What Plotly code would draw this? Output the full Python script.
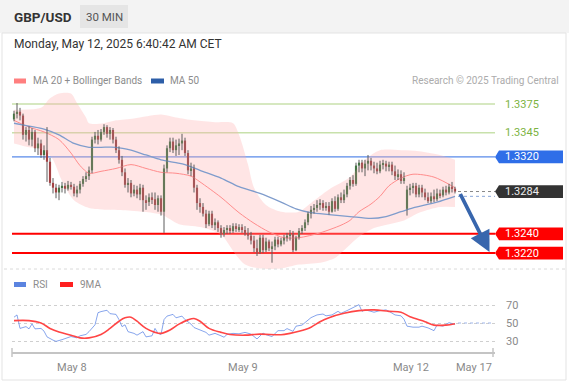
import plotly.graph_objects as go

W, H = 569, 386
def PX(x): return x / W
def PY(y): return 1 - y / H

# ---------------- DATA ----------------
opens = [1.3359,1.3365,1.3367,1.3363,1.3343,1.3348,1.3338,1.3346,1.3329,1.3334,
 1.3322,1.3327,1.3315,1.3293,1.3288,1.3283,1.3288,1.3290,1.3287,1.3291,
 1.3289,1.3282,1.3286,1.3292,1.3297,1.3300,1.3306,1.3338,1.3342,1.3338,
 1.3346,1.3351,1.3344,1.3348,1.3338,1.3327,1.3317,1.3304,1.3291,1.3293,
 1.3282,1.3286,1.3281,1.3288,1.3275,1.3273,1.3278,1.3276,1.3270,1.3277,
 1.3263,1.3308,1.3329,1.3336,1.3327,1.3332,1.3334,1.3337,1.3324,1.3306,
 1.3308,1.3288,1.3272,1.3268,1.3261,1.3250,1.3261,1.3249,1.3252,1.3246,
 1.3240,1.3244,1.3246,1.3243,1.3248,1.3245,1.3247,1.3244,1.3241,1.3238,
 1.3233,1.3225,1.3221,1.3236,1.3223,1.3232,1.3225,1.3227,1.3234,1.3229,
 1.3233,1.3236,1.3238,1.3240,1.3223,1.3236,1.3243,1.3246,1.3252,1.3261,
 1.3265,1.3267,1.3270,1.3272,1.3267,1.3269,1.3263,1.3274,1.3266,1.3278,
 1.3275,1.3281,1.3290,1.3296,1.3292,1.3311,1.3314,1.3308,1.3313,1.3316,
 1.3311,1.3308,1.3305,1.3312,1.3313,1.3310,1.3312,1.3305,1.3300,1.3302,
 1.3295,1.3266,1.3286,1.3288,1.3290,1.3281,1.3288,1.3283,1.3278,1.3274,
 1.3279,1.3276,1.3282,1.3280,1.3286,1.3283,1.3289,1.3287]
closes = [1.3365,1.3367,1.3363,1.3343,1.3348,1.3338,1.3346,1.3329,1.3334,1.3322,
 1.3327,1.3315,1.3293,1.3288,1.3283,1.3288,1.3290,1.3287,1.3291,1.3289,
 1.3282,1.3286,1.3292,1.3297,1.3300,1.3306,1.3338,1.3342,1.3338,1.3346,
 1.3351,1.3344,1.3348,1.3338,1.3327,1.3317,1.3304,1.3291,1.3293,1.3282,
 1.3286,1.3281,1.3288,1.3275,1.3273,1.3278,1.3276,1.3270,1.3277,1.3263,
 1.3308,1.3329,1.3336,1.3327,1.3332,1.3334,1.3337,1.3324,1.3306,1.3308,
 1.3288,1.3272,1.3268,1.3261,1.3250,1.3261,1.3249,1.3252,1.3246,1.3240,
 1.3244,1.3246,1.3243,1.3248,1.3245,1.3247,1.3244,1.3241,1.3238,1.3233,
 1.3225,1.3221,1.3236,1.3223,1.3232,1.3225,1.3227,1.3234,1.3229,1.3233,
 1.3236,1.3238,1.3240,1.3223,1.3236,1.3243,1.3246,1.3252,1.3261,1.3265,
 1.3267,1.3270,1.3272,1.3267,1.3269,1.3263,1.3274,1.3266,1.3278,1.3275,
 1.3281,1.3290,1.3296,1.3292,1.3311,1.3314,1.3308,1.3313,1.3316,1.3311,
 1.3308,1.3305,1.3312,1.3313,1.3310,1.3312,1.3305,1.3300,1.3302,1.3295,
 1.3298,1.3286,1.3288,1.3290,1.3281,1.3288,1.3283,1.3278,1.3274,1.3279,
 1.3276,1.3282,1.3280,1.3286,1.3283,1.3289,1.3287,1.3284]
highs = [1.3368,1.3376,1.3371,1.3365,1.3351,1.3352,1.3350,1.3348,1.3340,1.3338,
 1.3332,1.3351,1.3319,1.3298,1.3292,1.3291,1.3294,1.3293,1.3295,1.3294,
 1.3292,1.3290,1.3295,1.3300,1.3304,1.3310,1.3341,1.3346,1.3348,1.3349,
 1.3354,1.3353,1.3351,1.3350,1.3341,1.3331,1.3321,1.3308,1.3298,1.3296,
 1.3291,1.3290,1.3292,1.3291,1.3280,1.3282,1.3283,1.3283,1.3280,1.3280,
 1.3312,1.3332,1.3340,1.3340,1.3338,1.3339,1.3344,1.3340,1.3327,1.3314,
 1.3312,1.3291,1.3277,1.3272,1.3265,1.3264,1.3264,1.3256,1.3254,1.3249,
 1.3247,1.3249,1.3249,1.3251,1.3251,1.3250,1.3250,1.3248,1.3246,1.3242,
 1.3238,1.3234,1.3239,1.3239,1.3236,1.3234,1.3232,1.3237,1.3237,1.3236,
 1.3239,1.3241,1.3244,1.3243,1.3238,1.3246,1.3249,1.3255,1.3263,1.3269,
 1.3271,1.3275,1.3276,1.3275,1.3273,1.3273,1.3277,1.3279,1.3281,1.3283,
 1.3286,1.3293,1.3299,1.3301,1.3314,1.3317,1.3317,1.3317,1.3322,1.3319,
 1.3315,1.3314,1.3316,1.3317,1.3316,1.3315,1.3315,1.3311,1.3307,1.3306,
 1.3304,1.3290,1.3292,1.3293,1.3293,1.3291,1.3291,1.3287,1.3283,1.3283,
 1.3286,1.3287,1.3286,1.3289,1.3290,1.3292,1.3294,1.3289]
lows = [1.3357,1.3360,1.3358,1.3338,1.3336,1.3332,1.3331,1.3325,1.3322,1.3319,
 1.3317,1.3294,1.3290,1.3282,1.3277,1.3275,1.3283,1.3282,1.3285,1.3286,
 1.3279,1.3278,1.3282,1.3289,1.3294,1.3296,1.3303,1.3334,1.3333,1.3336,
 1.3343,1.3340,1.3338,1.3334,1.3324,1.3313,1.3300,1.3288,1.3283,1.3278,
 1.3279,1.3277,1.3275,1.3263,1.3265,1.3269,1.3271,1.3265,1.3263,1.3259,
 1.3241,1.3304,1.3325,1.3324,1.3321,1.3322,1.3327,1.3321,1.3302,1.3300,
 1.3283,1.3265,1.3262,1.3258,1.3246,1.3248,1.3246,1.3244,1.3242,1.3236,
 1.3237,1.3240,1.3240,1.3241,1.3242,1.3242,1.3241,1.3238,1.3234,1.3229,
 1.3221,1.3217,1.3219,1.3220,1.3221,1.3222,1.3210,1.3223,1.3226,1.3227,
 1.3229,1.3232,1.3233,1.3221,1.3222,1.3234,1.3240,1.3243,1.3249,1.3256,
 1.3261,1.3263,1.3265,1.3264,1.3264,1.3260,1.3262,1.3263,1.3264,1.3272,
 1.3272,1.3278,1.3286,1.3289,1.3290,1.3304,1.3304,1.3300,1.3306,1.3306,
 1.3303,1.3302,1.3303,1.3307,1.3305,1.3305,1.3301,1.3296,1.3296,1.3292,
 1.3292,1.3259,1.3280,1.3282,1.3278,1.3278,1.3278,1.3275,1.3272,1.3272,
 1.3273,1.3274,1.3277,1.3278,1.3280,1.3281,1.3283,1.3282]

ma50_idx = [0,5,10,15,20,25,29,34,39,44,49,54,57,62,69,75,82,89,94,99,105,112,119,124,129,133,141,147]
ma50 = [1.3355,1.3352,1.3349,1.3343,1.3334,1.3330,1.3330,1.3330,1.3327,1.3322,1.3317,1.3314,1.3312,1.3306,
        1.3298,1.3289,1.3282,1.3273,1.3266,1.3262,1.3260,1.3258,1.3256,1.3258,1.3263,1.3267,1.3273,1.3279]
ma20_idx = [0,5,10,15,19,22,25,29,34,39,44,49,54,59,62,69,75,80,85,90,95,102,109,112,115,119,122,125,129,133,140,147]
ma20 = [1.3358,1.3351,1.3346,1.3338,1.3324,1.3311,1.3303,1.3305,1.3308,1.3312,1.3308,1.3304,1.3303,1.3300,1.3294,
        1.3278,1.3262,1.3251,1.3242,1.3236,1.3236,1.3241,1.3249,1.3254,1.3263,1.3271,1.3279,1.3290,1.3298,1.3302,1.3299,1.3288]
bb_up_idx = [0,9,12,15,19,21,24,25,30,34,40,49,54,60,67,73,75,78,80,84,89,95,99,105,112,117,122,129,135,142,147]
bb_upper = [1.3369,1.3371,1.3381,1.3386,1.3386,1.3376,1.3361,1.3355,1.3355,1.3358,1.3360,1.3364,1.3361,1.3358,1.3356,
            1.3355,1.3343,1.3312,1.3288,1.3270,1.3263,1.3263,1.3272,1.3286,1.3299,1.3317,1.3327,1.3327,1.3326,1.3322,1.3317]
bb_lo_idx = [0,5,10,13,16,20,25,32,39,49,55,62,69,74,77,82,89,95,102,107,110,115,120,125,130,135,142,147]
bb_lower = [1.3334,1.3330,1.3327,1.3317,1.3295,1.3275,1.3267,1.3265,1.3264,1.3260,1.3250,1.3247,1.3239,1.3218,
            1.3208,1.3204,1.3204,1.3208,1.3210,1.3215,1.3223,1.3237,1.3246,1.3250,1.3254,1.3262,1.3268,1.3268]

rsi_idx = [0,1,2,4,5,6,7,9,10,11,13,14,16,18,19,21,22,24,25,27,28,29,31,32,34,35,36,37,38,40,41,43,44,46,47,48,49,
           50,51,53,54,56,57,59,60,62,64,65,67,69,70,71,73,75,77,79,81,83,84,86,88,90,91,93,94,96,98,99,101,103,104,
           106,108,109,111,113,115,116,117,119,120,122,124,125,127,129,130,131,133,135,136,138,140,141,143,145,146,147]
rsi = [56.5,59,44,46,43.5,49,43.5,44,41,34.6,31,29.6,31.5,33.5,35,33.5,35.8,37.3,40.4,48,61.5,62.7,64.2,60.4,59.6,
       53.8,46,48,40.4,38.5,36.5,40.4,34.6,35.8,44,38.5,37.3,53.8,57.7,59.6,55.8,57.7,53.8,48.8,45,42.3,39.6,36.5,
       38.5,35.8,34.2,37.3,38.5,38,39.6,37.7,32.3,38.8,37,35,41.5,41.5,43.8,40.8,46.5,47.7,53,56,59,60,58,59,63,
       60.8,63.8,67,70.4,63,64.6,63,62,63.8,64.6,63,59,58,54.2,46.5,45.4,45.4,46.5,44.6,41.5,47.7,46.5,50.4,49.6,48.5]
rsi9_idx = [0,5,9,12,15,19,22,25,29,32,35,37,39,41,44,47,49,52,55,58,60,62,65,69,72,77,82,89,92,95,99,102,105,
            110,115,120,125,129,132,137,140,144,147]
rsi9 = [52.7,52.7,50,44,40,36.5,33.5,33.5,37.3,44,52,55.8,56.5,52,44,39.6,38.5,42.3,48.8,53.5,55,52,44,39.6,37.3,
        36.5,37.7,37,38.5,40.8,45.4,51.5,56,60.8,63.8,64.6,63,62,57,51.5,47.7,47.7,49.2]

date_labels = ["May 8", "May 9", "May 12", "May 17"]
date_pos = [19.3, 76.3, 132.3, 153.3]          # in candle-index units

resist1, resist2, pivot = 1.3375, 1.3345, 1.3320
support1, support2 = 1.3240, 1.3220
rsi_levels = [30, 50, 70]

# ---------------- FIGURE ----------------
n = len(closes)
idx = list(range(n))
XR = [-0.667, 160.33]
YR = [1.32024, 1.33875]

GREEN, RED = "#2e8a2e", "#e8262b"
fig = go.Figure()

# Bollinger band fill
fig.add_trace(go.Scatter(x=bb_up_idx, y=bb_upper, mode="lines",
                         line=dict(width=0, shape="spline", smoothing=0.8), hoverinfo="skip"))
fig.add_trace(go.Scatter(x=bb_lo_idx, y=bb_lower, mode="lines", fill="tonexty",
                         fillcolor="rgba(255,175,175,0.32)",
                         line=dict(width=0, shape="spline", smoothing=0.8), hoverinfo="skip"))
# MA lines
fig.add_trace(go.Scatter(x=ma20_idx, y=ma20, mode="lines",
                         line=dict(color="#ff8c8c", width=1, shape="spline", smoothing=0.8)))
fig.add_trace(go.Scatter(x=ma50_idx, y=ma50, mode="lines",
                         line=dict(color="#7f9ccc", width=1.3, shape="spline", smoothing=0.8)))

# wicks
wx, wy = [], []
for i in idx:
    wx += [i, i, None]
    wy += [lows[i], highs[i], None]
fig.add_trace(go.Scatter(x=wx, y=wy, mode="lines", line=dict(color="#5c5c5c", width=1), hoverinfo="skip"))
# bodies
body_base = [min(o, c) for o, c in zip(opens, closes)]
body_h = [max(abs(c - o), 0.00005) for o, c in zip(opens, closes)]
body_col = [GREEN if c >= o else RED for o, c in zip(opens, closes)]
fig.add_trace(go.Bar(x=idx, y=body_h, base=body_base, width=0.72,
                     marker=dict(color=body_col, line=dict(width=0))))

# RSI
fig.add_trace(go.Scatter(x=rsi_idx, y=rsi, mode="lines", xaxis="x2", yaxis="y2",
                         line=dict(color="rgba(95,135,230,0.75)", width=1)))
fig.add_trace(go.Scatter(x=rsi9_idx, y=rsi9, mode="lines", xaxis="x2", yaxis="y2",
                         line=dict(color="#ff4545", width=1.6, shape="spline", smoothing=1)))

shapes = []
ann = []

# header & frame
shapes.append(dict(type="rect", xref="paper", yref="paper", x0=0, x1=1, y0=PY(33), y1=1,
                   fillcolor="#f3f3f3", line=dict(width=0), layer="below"))
shapes.append(dict(type="rect", xref="paper", yref="paper", x0=PX(2), x1=PX(566), y0=PY(380), y1=PY(33),
                   fillcolor="rgba(0,0,0,0)", line=dict(color="#e3e3e3", width=1)))
shapes.append(dict(type="rect", xref="paper", yref="paper", x0=PX(80), x1=PX(128), y0=PY(28), y1=PY(5),
                   fillcolor="#e5e5e5", line=dict(width=0)))
shapes.append(dict(type="line", xref="paper", yref="paper", x0=PX(4), x1=PX(565), y0=PY(269), y1=PY(269),
                   line=dict(color="#dadada", width=1, dash="dot")))
ann.append(dict(text="<b>GBP/USD</b>", x=PX(12), y=PY(17), xref="paper", yref="paper", xanchor="left",
                yanchor="middle", showarrow=False, font=dict(size=13.5, color="#333")))
ann.append(dict(text="30 MIN", x=PX(104), y=PY(17), xref="paper", yref="paper", xanchor="center",
                yanchor="middle", showarrow=False, font=dict(size=11.5, color="#555")))
ann.append(dict(text="Monday, May 12, 2025 6:40:42 AM CET", x=PX(12), y=PY(44), xref="paper", yref="paper",
                xanchor="left", yanchor="middle", showarrow=False, font=dict(size=12, color="#333")))

# legends
def swatch(x0, x1, y, color):
    shapes.append(dict(type="rect", xref="paper", yref="paper", x0=PX(x0), x1=PX(x1),
                       y0=PY(y + 2.5), y1=PY(y - 2.5), fillcolor=color, line=dict(width=0)))
def label(text, x, y, color="#8c8c8c", size=10, anchor="left"):
    ann.append(dict(text=text, x=PX(x), y=PY(y), xref="paper", yref="paper", xanchor=anchor,
                    yanchor="middle", showarrow=False, font=dict(size=size, color=color)))
swatch(14, 26, 81, "#ff7f7f"); label("MA 20 + Bollinger Bands", 31, 81)
swatch(151, 164, 81, "#2d5ea8"); label("MA 50", 168, 81)
label("Research © 2025 Trading Central", 561, 81, color="#acacac", anchor="right")
swatch(14, 26, 284.5, "#5b84e0"); label("RSI", 31, 284.5)
swatch(60, 73, 284.5, "#ff2020"); label("9MA", 78, 284.5)

# level lines
def hline(price, color, width):
    shapes.append(dict(type="line", xref="paper", yref="y", x0=PX(12), x1=PX(495), y0=price, y1=price,
                       line=dict(color=color, width=width), layer="below"))
hline(resist1, "#c8e1ab", 1.5)
hline(resist2, "#c8e1ab", 1.5)
hline(pivot, "#2f6ce5", 1)
hline(support1, "#ff0000", 2)
hline(support2, "#ff0000", 2)

def tag(price, color, text_color="white"):
    hh = 0.00066
    xt, xb, xr = PX(495), PX(499), PX(563)
    path = (f"M {xt},{price} L {xb},{price + hh} L {xr},{price + hh} "
            f"L {xr},{price - hh} L {xb},{price - hh} Z")
    shapes.append(dict(type="path", xref="paper", yref="y", path=path, fillcolor=color, line=dict(width=0)))
    ann.append(dict(text=f"{price:.4f}", x=PX(503), y=price, xref="paper", yref="y", xanchor="left",
                    yanchor="middle", showarrow=False, font=dict(size=11, color=text_color)))

for p in (resist1, resist2):
    ann.append(dict(text=f"{p:.4f}", x=PX(503), y=p, xref="paper", yref="y", xanchor="left",
                    yanchor="middle", showarrow=False, font=dict(size=11, color="#7cb342")))
tag(pivot, "#2f6ee8")
tag(closes[-1], "#333333", "#eeeeee")
tag(support1, "#ff0000")
tag(support2, "#ff0000")

# dotted extensions
shapes.append(dict(type="line", xref="x", yref="y", x0=n, x1=XR[1], y0=closes[-1], y1=closes[-1],
                   line=dict(color="#888", width=1, dash="dot")))
shapes.append(dict(type="line", xref="x", yref="y", x0=n, x1=XR[1], y0=ma50[-1], y1=ma50[-1],
                   line=dict(color="#8aa6d8", width=1, dash="dot")))
shapes.append(dict(type="line", xref="x2", yref="y2", x0=n, x1=XR[1] - 0.7, y0=50, y1=50,
                   line=dict(color="#9fb6ea", width=1.2, dash="dot")))
# axis end ticks
for xp in (12, 493):
    shapes.append(dict(type="line", xref="paper", yref="paper", x0=PX(xp), x1=PX(xp), y0=PY(357), y1=PY(348),
                       line=dict(color="#c4c4c4", width=1.5)))

# projection arrow
ann.append(dict(x=n - 1 + 11.5, y=support2 + 0.0001, ax=n - 1 + 1.5, ay=closes[-1] - 0.0001,
                xref="x", yref="y", axref="x", ayref="y", text="", showarrow=True,
                arrowhead=2, arrowsize=1.1, arrowwidth=3.8, arrowcolor="#3866ad"))

fig.update_layout(
    width=W, height=H, autosize=False,
    margin=dict(l=0, r=0, t=0, b=0),
    paper_bgcolor="white", plot_bgcolor="rgba(0,0,0,0)",
    showlegend=False, hovermode=False,
    font=dict(family="Roboto, Arial, sans-serif"),
    shapes=shapes, annotations=ann,
    xaxis=dict(domain=[PX(12), PX(495)], range=XR, visible=False, anchor="y"),
    yaxis=dict(domain=[PY(270), PY(92)], range=YR, visible=False, anchor="x"),
    xaxis2=dict(domain=[PX(12), PX(495)], range=XR, anchor="y2", showline=True, linecolor="#c4c4c4",
                linewidth=1.5, showgrid=False, zeroline=False, ticks="", tickvals=date_pos,
                ticktext=date_labels, tickfont=dict(size=11, color="#8a8a8a"), ticklabelstandoff=4),
    yaxis2=dict(domain=[PY(352), PY(290)], range=[17.8, 86.7], anchor="x2", side="right",
                tickvals=rsi_levels, showgrid=True, gridcolor="#cfcfcf", griddash="dot", gridwidth=1,
                zeroline=False, showline=False, ticks="", tickfont=dict(size=11, color="#8a8a8a"),
                ticklabelstandoff=10),
)

fig.write_html("out.html", config={"displayModeBar": False},
               post_script="document.body.style.margin='0';document.body.style.overflow='hidden';")
